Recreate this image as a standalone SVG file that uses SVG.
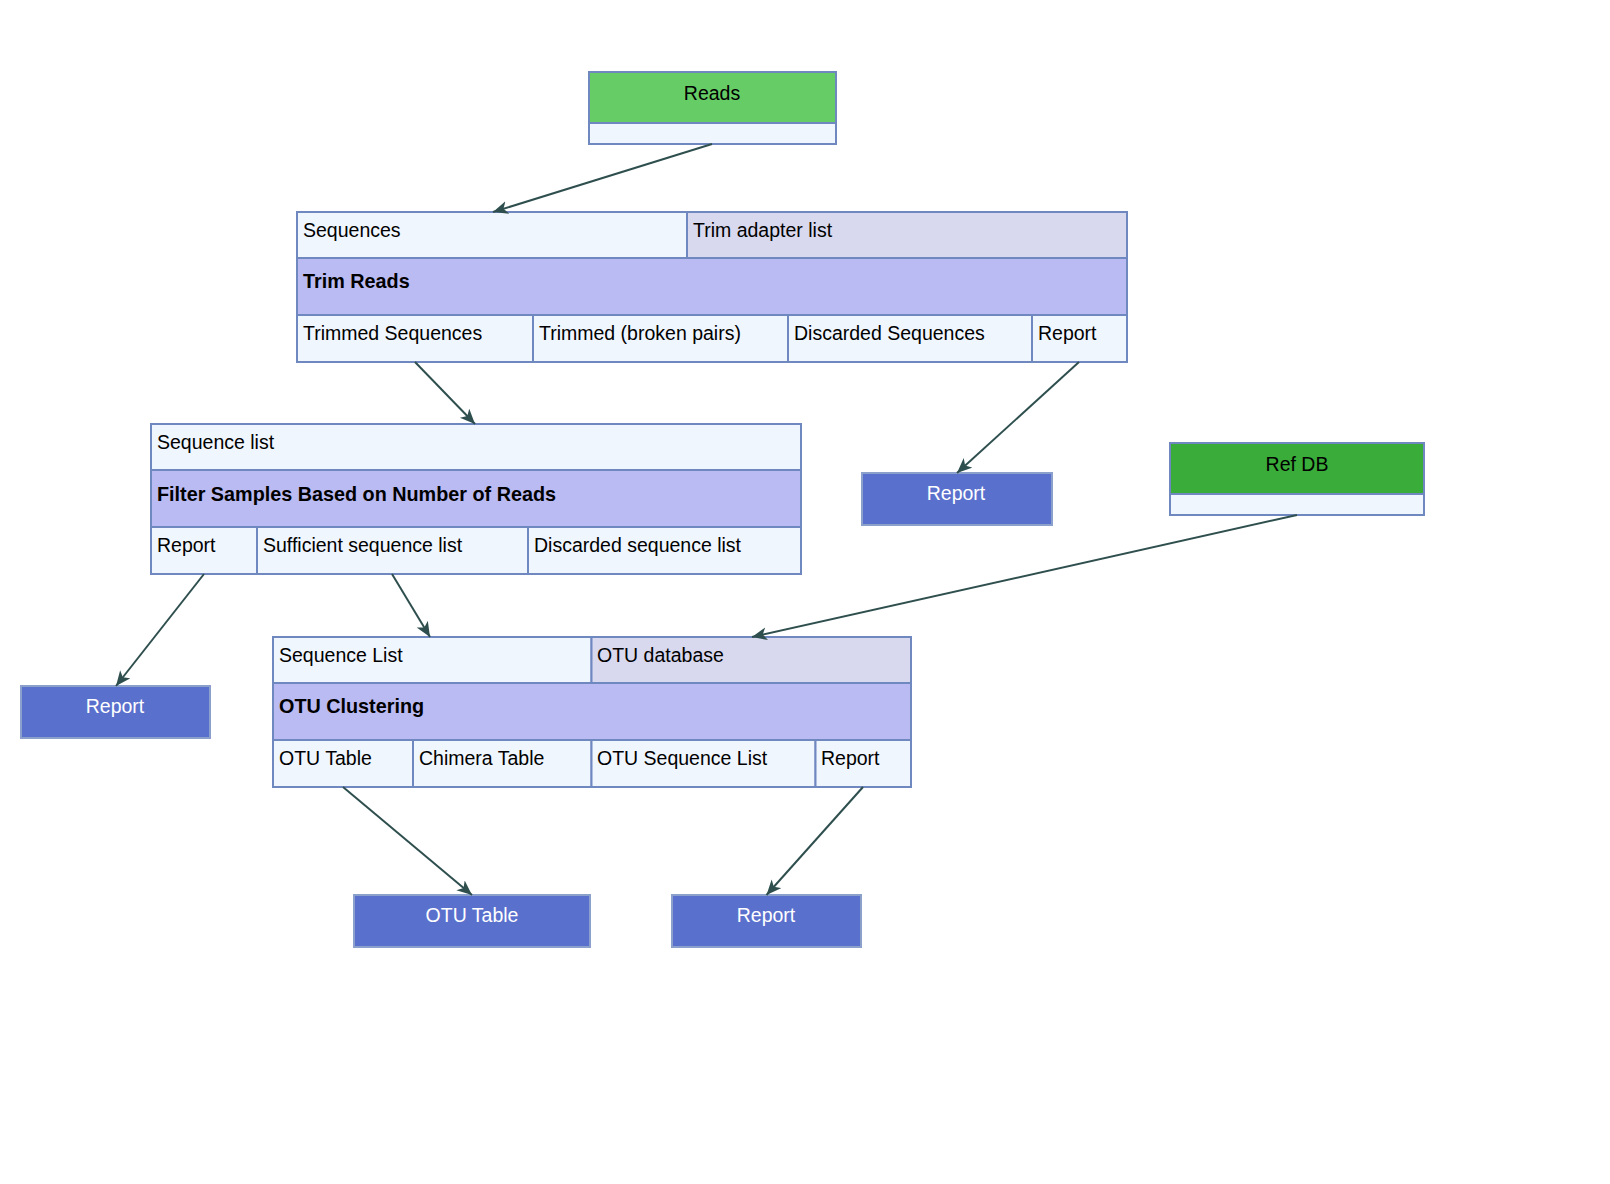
<svg xmlns="http://www.w3.org/2000/svg" width="1610" height="1184" viewBox="0 0 1610 1184">
<defs>
<marker id="arr" markerUnits="userSpaceOnUse" markerWidth="16" markerHeight="14" refX="15" refY="6.5" orient="auto">
<path d="M0,0 L15,6.5 L0,13 L4,6.5 z" fill="#2F4F4F"/>
</marker>
<style>
.b{stroke:#7088C0;stroke-width:2}
.ob{stroke:#8CA0CC;stroke-width:2}
.port{fill:#F0F6FE}
.param{fill:#D8D8EE}
.title{fill:#BBBBF3}
.out{fill:#5A70CD}
.src1{fill:#66CC66}
.src2{fill:#3AAC3A}
text{font-family:"Liberation Sans",Arial,sans-serif;font-size:19.5px;fill:#000}
.bold{font-weight:bold;font-size:19.8px}
.w{fill:#FFFFFF}
.c{text-anchor:middle}
.edge{stroke:#2F4F4F;stroke-width:2;fill:none;marker-end:url(#arr)}
</style>
</defs>
<rect width="1610" height="1184" fill="#FFFFFF"/>

<g id="reads">
<rect class="src1 b" x="589" y="72" width="247" height="51"/>
<rect class="port b" x="589" y="123" width="247" height="21"/>
<text class="c" x="712" y="100">Reads</text>
</g>

<g id="refdb">
<rect class="src2 b" x="1170" y="443" width="254" height="51"/>
<rect class="port b" x="1170" y="494" width="254" height="21"/>
<text class="c" x="1297" y="471">Ref DB</text>
</g>

<g id="trimreads">
<rect class="port b" x="297" y="212" width="390" height="46"/>
<rect class="param b" x="687" y="212" width="440" height="46"/>
<rect class="title b" x="297" y="258" width="830" height="57"/>
<rect class="port b" x="297" y="315" width="236" height="47"/>
<rect class="port b" x="533" y="315" width="255" height="47"/>
<rect class="port b" x="788" y="315" width="244" height="47"/>
<rect class="port b" x="1032" y="315" width="95" height="47"/>
<text x="303" y="237">Sequences</text>
<text x="693" y="237">Trim adapter list</text>
<text class="bold" x="303" y="288">Trim Reads</text>
<text x="303" y="340">Trimmed Sequences</text>
<text x="539" y="340">Trimmed (broken pairs)</text>
<text x="794" y="340">Discarded Sequences</text>
<text x="1038" y="340">Report</text>
</g>

<g id="filter">
<rect class="port b" x="151" y="424" width="650" height="46"/>
<rect class="title b" x="151" y="470" width="650" height="57"/>
<rect class="port b" x="151" y="527" width="106" height="47"/>
<rect class="port b" x="257" y="527" width="271" height="47"/>
<rect class="port b" x="528" y="527" width="273" height="47"/>
<text x="157" y="449">Sequence list</text>
<text class="bold" x="157" y="501">Filter Samples Based on Number of Reads</text>
<text x="157" y="552">Report</text>
<text x="263" y="552">Sufficient sequence list</text>
<text x="534" y="552">Discarded sequence list</text>
</g>

<g id="otu">
<rect class="port b" x="273" y="637" width="318.5" height="46"/>
<rect class="param b" x="591.5" y="637" width="319.5" height="46"/>
<rect class="title b" x="273" y="683" width="638" height="57"/>
<rect class="port b" x="273" y="740" width="140" height="47"/>
<rect class="port b" x="413" y="740" width="178.5" height="47"/>
<rect class="port b" x="591.5" y="740" width="224" height="47"/>
<rect class="port b" x="815.5" y="740" width="95.5" height="47"/>
<text x="279" y="662">Sequence List</text>
<text x="597" y="662">OTU database</text>
<text class="bold" x="279" y="713">OTU Clustering</text>
<text x="279" y="765">OTU Table</text>
<text x="419" y="765">Chimera Table</text>
<text x="597" y="765">OTU Sequence List</text>
<text x="821" y="765">Report</text>
</g>

<g id="report1">
<rect class="out ob" x="862" y="473" width="190" height="52"/>
<text class="w c" x="956" y="500">Report</text>
</g>

<g id="report2">
<rect class="out ob" x="21" y="686" width="189" height="52"/>
<text class="w c" x="115" y="713">Report</text>
</g>

<g id="otutable">
<rect class="out ob" x="354" y="895" width="236" height="52"/>
<text class="w c" x="472" y="922">OTU Table</text>
</g>

<g id="report3">
<rect class="out ob" x="672" y="895" width="189" height="52"/>
<text class="w c" x="766" y="922">Report</text>
</g>

<g id="connectors">
<line class="edge" x1="712" y1="144" x2="493" y2="212"/>
<line class="edge" x1="415" y1="362" x2="475" y2="424"/>
<line class="edge" x1="1079" y1="362" x2="957" y2="473"/>
<line class="edge" x1="204" y1="574" x2="116" y2="686"/>
<line class="edge" x1="392" y1="574" x2="430" y2="637"/>
<line class="edge" x1="1297" y1="515" x2="752" y2="637"/>
<line class="edge" x1="343" y1="787" x2="472" y2="895"/>
<line class="edge" x1="863" y1="787" x2="766.5" y2="895"/>
</g>
</svg>
